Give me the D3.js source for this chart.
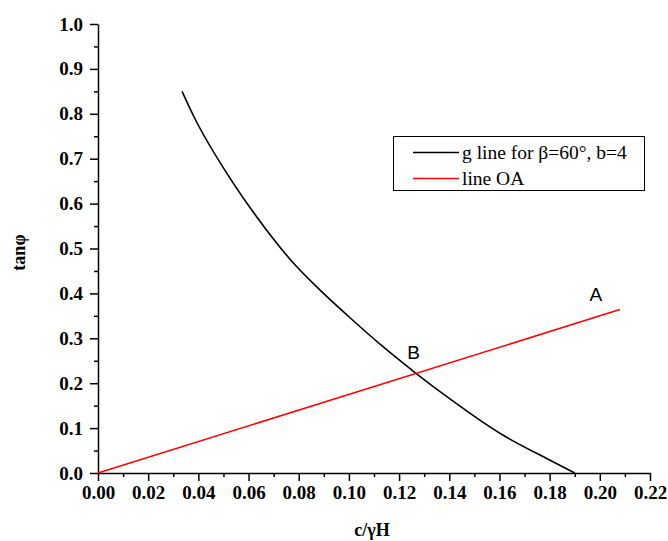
<!DOCTYPE html>
<html lang="en">
<head>
<meta charset="UTF-8">
<title>g line and line OA</title>
<script src="https://d3js.org/d3.v7.min.js"></script>
<style>
  body { margin: 0; background: #fff; }
  svg { display: block; }
  .axis path, .axis line { stroke: #000; stroke-width: 1.5px; }
  .axis text { font-family: "Times New Roman", "Liberation Serif", serif !important; font-weight: bold; font-size: 19px; fill: #000; }
  .title { font-family: "Times New Roman", "Liberation Serif", serif; font-weight: bold; font-size: 18px; }
  .legend text { font-family: "Times New Roman", "Liberation Serif", serif; font-size: 19.5px; }
  .mark { font-family: "Liberation Sans", Arial, sans-serif; font-size: 19px; }
</style>
</head>
<body>
<svg width="668" height="541"></svg>
<script>
// g line for beta=60°, b=4
const gLineX = [0.0335, 0.0382, 0.0535, 0.0661, 0.0767, 0.0880, 0.1000, 0.1130, 0.1266, 0.1400, 0.1600, 0.1800, 0.1900];
const gLineY = [0.850, 0.794, 0.649, 0.549, 0.475, 0.410, 0.348, 0.284, 0.2226, 0.166, 0.089, 0.029, 0.000];
// line OA
const oaX = [0, 0.208];
const oaY = [0, 0.364];

const xTickLabels = ["0.00", "0.02", "0.04", "0.06", "0.08", "0.10", "0.12", "0.14", "0.16", "0.18", "0.20", "0.22"];
const yTickLabels = ["0.0", "0.1", "0.2", "0.3", "0.4", "0.5", "0.6", "0.7", "0.8", "0.9", "1.0"];
const seriesNames = ["g line for β=60°, b=4", "line OA"];
const seriesColors = ["#000000", "#ff0000"];

const svg = d3.select("svg");
const margin = { top: 24, right: 18, bottom: 68, left: 98 };
const width = +svg.attr("width");
const height = +svg.attr("height");
const serif = '"Times New Roman", "Liberation Serif", serif';

const x = d3.scaleLinear().domain([0, 0.22]).range([margin.left, width - margin.right]);
const y = d3.scaleLinear().domain([0, 1.0]).range([height - margin.bottom, margin.top]);

const xMajor = xTickLabels.map(Number);
const yMajor = yTickLabels.map(Number);
const xMinor = d3.pairs(xMajor).map(([a, b]) => (a + b) / 2);
const yMinor = d3.pairs(yMajor).map(([a, b]) => (a + b) / 2);

// minor ticks
svg.append("g").attr("class", "axis")
    .attr("transform", `translate(0,${y(0)})`)
    .call(d3.axisBottom(x).tickValues(xMinor).tickSize(4).tickFormat(""))
    .select(".domain").remove();
svg.append("g").attr("class", "axis")
    .attr("transform", `translate(${x(0)},0)`)
    .call(d3.axisLeft(y).tickValues(yMinor).tickSize(4).tickFormat(""))
    .select(".domain").remove();

// major ticks
svg.append("g").attr("class", "axis")
    .attr("transform", `translate(0,${y(0)})`)
    .call(d3.axisBottom(x).tickValues(xMajor).tickSize(8).tickSizeOuter(0)
        .tickFormat((d, i) => xTickLabels[i]))
    .attr("font-family", serif)
    .call(g => g.selectAll("text").attr("y", 13));
svg.append("g").attr("class", "axis")
    .attr("transform", `translate(${x(0)},0)`)
    .call(d3.axisLeft(y).tickValues(yMajor).tickSize(8).tickSizeOuter(0)
        .tickFormat((d, i) => yTickLabels[i]))
    .attr("font-family", serif)
    .call(g => g.selectAll("text").attr("x", -15));

// axis titles
svg.append("text").attr("class", "title")
    .attr("x", (x.range()[0] + x.range()[1]) / 2 - 2)
    .attr("y", 536)
    .attr("text-anchor", "middle")
    .text("c/γH");
svg.append("text").attr("class", "title")
    .attr("transform", `translate(25,${(y.range()[0] + y.range()[1]) / 2 + 4}) rotate(-90)`)
    .attr("text-anchor", "middle")
    .text("tanφ");

// lines
const line = d3.line().x(d => x(d[0])).y(d => y(d[1])).curve(d3.curveMonotoneX);
const gData = d3.zip(gLineX, gLineY);
const oaData = d3.zip(oaX, oaY);

svg.append("path").datum(gData)
    .attr("d", line).attr("fill", "none")
    .attr("stroke", seriesColors[0]).attr("stroke-width", 1.6);
svg.append("path").datum(oaData)
    .attr("d", line).attr("fill", "none")
    .attr("stroke", seriesColors[1]).attr("stroke-width", 1.6);

// point labels
const aPt = oaData[oaData.length - 1];
svg.append("text").attr("class", "mark")
    .attr("x", x(aPt[0]) - 24).attr("y", y(aPt[1]) - 9)
    .attr("text-anchor", "middle").text("A");
const bPt = gData[8];
svg.append("text").attr("class", "mark")
    .attr("x", x(bPt[0]) - 2).attr("y", y(bPt[1]) - 14)
    .attr("text-anchor", "middle").text("B");

// legend
const legend = svg.append("g").attr("class", "legend");
legend.append("rect")
    .attr("x", 393.5).attr("y", 136.5).attr("width", 251).attr("height", 54)
    .attr("fill", "#fff").attr("stroke", "#000").attr("stroke-width", 1);
seriesNames.forEach((name, i) => {
    const ly = 152.5 + i * 26;
    legend.append("line")
        .attr("x1", 413).attr("x2", 459).attr("y1", ly).attr("y2", ly)
        .attr("stroke", seriesColors[i]).attr("stroke-width", 1.6);
    legend.append("text")
        .attr("x", 462).attr("y", ly + 6).text(name);
});
</script>
</body>
</html>
